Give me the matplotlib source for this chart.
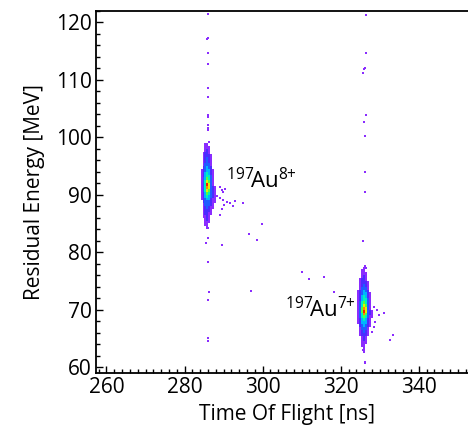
import numpy as np
import matplotlib
matplotlib.use("Agg")
import matplotlib.pyplot as plt
from matplotlib.colors import LinearSegmentedColormap, Normalize
from matplotlib.ticker import MultipleLocator

# ---------------- data ----------------
# Dense cores as binned count levels (0 = empty, 1 = sparse ... 9 = peak)
# Au8+ core: columns of 0.5 ns starting at au8_x0, rows of 0.5 MeV from au8_ytop downwards
au8_x0 = 284.1
au8_ytop = 99.0
au8_levels = [
    [0, 0, 1, 1, 0, 0, 0, 0],
    [0, 0, 1, 1, 1, 0, 0, 0],
    [0, 0, 1, 2, 1, 0, 0, 0],
    [0, 1, 2, 2, 1, 0, 0, 0],
    [0, 1, 2, 2, 2, 1, 0, 0],
    [0, 1, 2, 3, 2, 1, 0, 0],
    [0, 1, 2, 3, 2, 1, 0, 0],
    [0, 1, 3, 3, 3, 1, 0, 0],
    [0, 2, 3, 4, 3, 2, 0, 0],
    [1, 2, 3, 4, 4, 2, 1, 0],
    [1, 2, 4, 5, 4, 2, 1, 0],
    [1, 2, 4, 5, 5, 3, 1, 0],
    [1, 3, 4, 6, 5, 3, 1, 0],
    [1, 3, 5, 7, 6, 3, 1, 0],
    [1, 3, 5, 9, 7, 3, 1, 0],
    [1, 3, 5, 8, 7, 3, 2, 1],
    [1, 3, 5, 7, 6, 3, 2, 1],
    [1, 2, 4, 6, 5, 3, 2, 1],
    [1, 2, 4, 5, 4, 3, 2, 1],
    [1, 2, 3, 4, 4, 2, 1, 1],
    [0, 2, 3, 3, 3, 2, 1, 1],
    [0, 1, 3, 3, 3, 2, 1, 0],
    [0, 1, 2, 3, 2, 1, 1, 0],
    [0, 1, 2, 2, 2, 1, 0, 0],
    [0, 1, 2, 2, 1, 1, 0, 0],
    [0, 1, 1, 2, 1, 0, 0, 0],
    [0, 0, 1, 2, 1, 0, 0, 0],
    [0, 0, 1, 1, 1, 0, 0, 0],
    [0, 0, 1, 1, 0, 0, 0, 0],
    [0, 0, 0, 1, 0, 0, 0, 0],
]

# Au7+ core
au7_x0 = 324.25
au7_ytop = 77.5
au7_levels = [
    [0, 0, 0, 1, 1, 0, 0, 0],
    [0, 0, 1, 1, 0, 0, 0, 0],
    [0, 0, 1, 1, 1, 0, 0, 0],
    [0, 0, 1, 2, 1, 0, 0, 0],
    [0, 1, 2, 2, 1, 0, 0, 0],
    [0, 1, 2, 2, 2, 1, 0, 0],
    [0, 1, 2, 3, 2, 1, 0, 0],
    [0, 1, 3, 3, 3, 1, 0, 0],
    [1, 2, 3, 4, 3, 2, 0, 0],
    [1, 2, 3, 4, 4, 2, 1, 0],
    [1, 2, 4, 5, 4, 2, 1, 0],
    [1, 2, 4, 5, 5, 3, 1, 0],
    [1, 3, 5, 6, 5, 3, 1, 0],
    [1, 3, 5, 7, 6, 3, 1, 0],
    [1, 3, 6, 8, 7, 3, 1, 0],
    [1, 3, 6, 9, 7, 3, 2, 1],
    [1, 3, 5, 8, 6, 3, 2, 1],
    [1, 3, 5, 6, 5, 3, 1, 1],
    [1, 2, 4, 5, 4, 2, 1, 0],
    [1, 2, 4, 4, 4, 2, 1, 0],
    [0, 2, 3, 4, 3, 2, 1, 0],
    [0, 1, 3, 3, 3, 1, 0, 0],
    [0, 1, 2, 3, 2, 1, 0, 0],
    [0, 1, 2, 2, 2, 1, 0, 0],
    [0, 0, 1, 2, 1, 0, 0, 0],
    [0, 0, 1, 2, 1, 0, 0, 0],
    [0, 0, 1, 1, 1, 0, 0, 0],
    [0, 0, 1, 1, 0, 0, 0, 0],
    [0, 0, 0, 1, 0, 0, 0, 0],
    [0, 0, 0, 1, 0, 0, 0, 0],
]

# Isolated single events (time of flight [ns], residual energy [MeV])
single_tof = [
    286.0, 286.0, 285.8, 286.0, 286.0, 286.0, 286.0, 286.0, 285.9, 286.0, 286.1,
    286.1, 286.3, 285.6,
    285.9, 285.9, 285.6, 286.0, 286.2, 285.9, 285.9, 286.0,
    289.1, 289.5, 289.9, 290.4, 288.3, 289.1, 289.9, 290.8, 291.7, 292.4, 292.9,
    289.5, 289.1, 287.8, 294.9, 289.6, 290.2,
    299.8, 296.5, 298.6, 297.0, 310.0, 311.9, 315.8, 318.4,
    326.5, 326.5, 326.3, 326.0, 325.8, 326.6, 326.0, 326.1, 326.1, 326.1, 325.7,
    326.1, 326.3, 325.8,
    328.4, 329.3, 331.0, 329.7, 328.8, 328.4, 328.0, 333.5, 332.7, 326.3, 325.8,
    326.1, 326.1,
]
single_energy = [
    121.4, 117.2, 117.0, 114.6, 112.7, 108.5, 107.0, 103.8, 103.5, 102.1, 101.6,
    101.2, 99.2, 97.4,
    84.2, 82.4, 81.6, 78.3, 73.0, 71.7, 65.0, 64.5,
    91.3, 90.8, 90.4, 91.0, 89.7, 89.4, 89.0, 88.7, 88.5, 88.0, 88.9,
    87.5, 86.4, 90.4, 88.6, 81.2, 88.2,
    84.9, 83.1, 82.1, 73.2, 76.6, 75.3, 75.6, 73.0,
    121.3, 114.7, 112.1, 111.8, 111.2, 103.8, 102.6, 100.2, 93.9, 90.5, 82.0,
    77.2, 77.6, 76.0,
    70.5, 69.9, 69.5, 69.0, 67.9, 67.0, 66.1, 65.6, 64.7, 64.4, 63.0,
    60.9, 60.75,
]

label_8 = r"$^{197}\!\mathrm{Au}^{8{+}}$"
label_8_pos = (290.6, 92.4)
label_7 = r"$^{197}\!\mathrm{Au}^{7{+}}$"
label_7_pos = (323.8, 70.0)

x_label = "Time Of Flight [ns]"
y_label = "Residual Energy [MeV]"

# ---------------- style ----------------
FONT = "Open Sans"
plt.rcParams["font.family"] = [FONT, "DejaVu Sans"]
plt.rcParams["mathtext.fontset"] = "custom"
plt.rcParams["mathtext.rm"] = FONT
plt.rcParams["mathtext.it"] = FONT
plt.rcParams["mathtext.bf"] = FONT

cmap = LinearSegmentedColormap.from_list(
    "density",
    ["#8a2cff", "#4a2cff", "#1f5cff", "#00b4ff", "#00f0c0", "#50ff40",
     "#e8f000", "#ff8a00", "#ff1a00"],
)
norm = Normalize(vmin=1, vmax=9)
bin_w = 0.5
bin_h = 0.5

fig = plt.figure(figsize=(4.68, 4.33), dpi=100)
ax = fig.add_axes([0.205, 0.1386, 0.815, 0.837])


def draw_core(x0, ytop, levels):
    arr = np.array(levels, dtype=float)
    nrows, ncols = arr.shape
    xe = x0 + bin_w * np.arange(ncols + 1)
    ye = ytop - bin_h * np.arange(nrows + 1)
    masked = np.ma.masked_where(arr <= 0, arr)
    ax.pcolormesh(xe, ye, masked, cmap=cmap, norm=norm, shading="flat",
                  edgecolors="none", antialiased=False, zorder=3)


ax.scatter(single_tof, single_energy, s=3.0, marker="s", color="#8a2cff",
           linewidths=0, zorder=2)
draw_core(au8_x0, au8_ytop, au8_levels)
draw_core(au7_x0, au7_ytop, au7_levels)

ax.text(label_8_pos[0], label_8_pos[1], label_8, fontsize=16,
        ha="left", va="center", zorder=5)
ax.text(label_7_pos[0], label_7_pos[1], label_7, fontsize=16,
        ha="right", va="center", zorder=5)

ax.set_xlim(257.3, 355)
ax.set_ylim(59.0, 122.0)
ax.xaxis.set_major_locator(MultipleLocator(20))
ax.xaxis.set_minor_locator(MultipleLocator(2))
ax.yaxis.set_major_locator(MultipleLocator(10))
ax.yaxis.set_minor_locator(MultipleLocator(2))
ax.tick_params(which="both", direction="in", top=False, right=False,
               labelsize=15, width=1.0, color="black")
ax.tick_params(which="major", length=5, pad=3)
ax.tick_params(which="minor", length=3)
for side in ["left", "bottom", "top"]:
    ax.spines[side].set_linewidth(1.3)
ax.spines["right"].set_visible(False)

ax.set_xlabel(x_label, fontsize=15, labelpad=4)
ax.set_ylabel(y_label, fontsize=15, labelpad=8)

fig.savefig("out.png", dpi=100)
